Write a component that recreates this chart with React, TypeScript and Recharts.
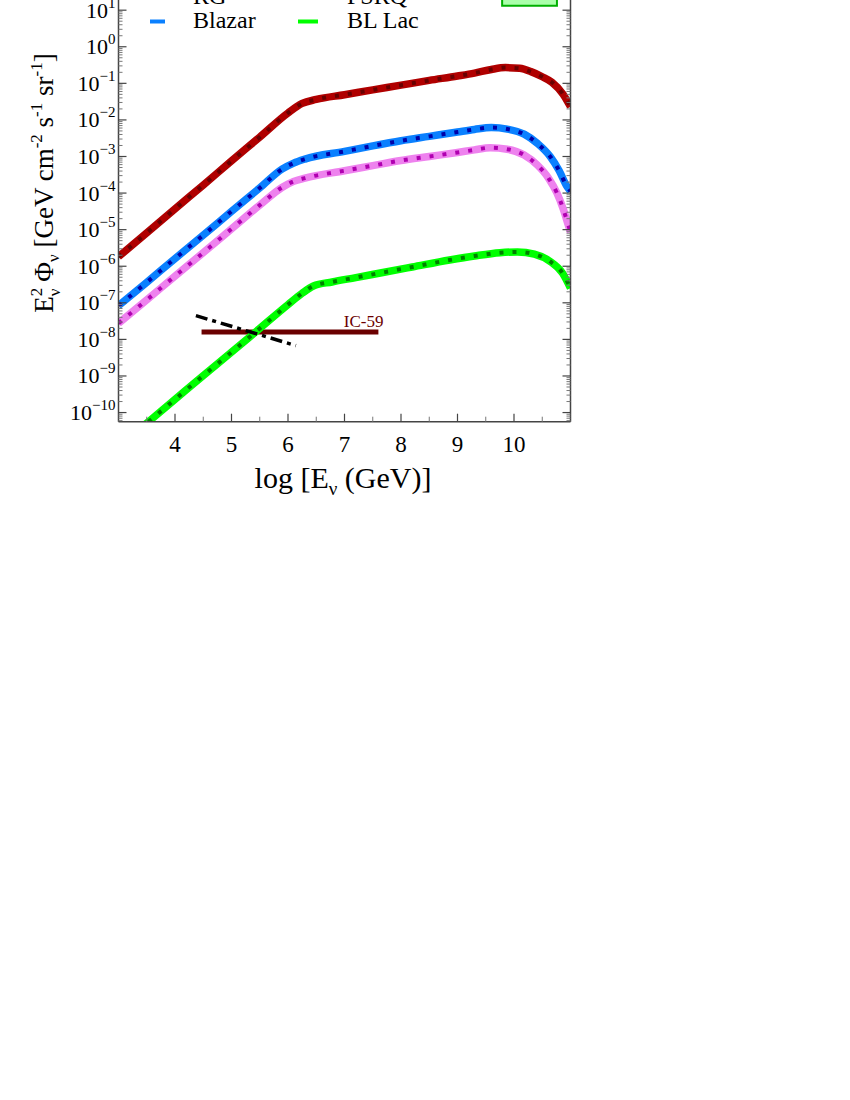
import { LineChart, Line, XAxis, YAxis, ReferenceArea, Customized } from 'recharts';

// x = log10(E / GeV), y = log10(E^2 Phi / GeV cm^-2 s^-1 sr^-1)
const rgE = [3, 3.5, 4, 4.5, 5, 5.5, 6, 6.25, 6.5, 7, 7.5, 8, 8.5, 9, 9.3, 9.6, 9.85, 10.1, 10.3, 10.5, 10.67, 10.87, 11];
const rgFlux = [-5.74, -5.09, -4.43, -3.78, -3.12, -2.47, -1.81, -1.55, -1.44, -1.31, -1.18, -1.05, -0.92, -0.8, -0.72, -0.62, -0.57, -0.59, -0.68, -0.82, -0.97, -1.3, -1.64];

const blazarE = [3, 3.5, 4, 4.5, 5, 5.5, 5.9, 6.1, 6.3, 7, 7.5, 8, 8.5, 9, 9.3, 9.6, 9.88, 10.18, 10.42, 10.64, 10.8, 10.93, 11];
const blazarFlux = [-7.08, -6.44, -5.79, -5.15, -4.5, -3.86, -3.34, -3.18, -3.07, -2.86, -2.71, -2.57, -2.45, -2.33, -2.26, -2.21, -2.25, -2.39, -2.65, -3.0, -3.39, -3.8, -3.95];

const fsrqE = [3, 3.5, 4, 4.5, 5, 5.5, 5.9, 6.1, 6.3, 7, 7.5, 8, 8.5, 9, 9.3, 9.58, 9.88, 10.18, 10.41, 10.61, 10.76, 10.87, 10.96, 11];
const fsrqFlux = [-7.56, -6.92, -6.27, -5.63, -4.98, -4.33, -3.84, -3.68, -3.59, -3.39, -3.25, -3.11, -3.0, -2.89, -2.82, -2.76, -2.8, -2.96, -3.23, -3.59, -4.0, -4.43, -4.87, -5.07];

const bllacE = [3, 3.5, 4, 4.5, 5, 5.5, 6, 6.25, 6.45, 6.78, 7.2, 7.68, 8.2, 8.86, 9.3, 9.75, 10.06, 10.36, 10.64, 10.86, 11];
const bllacFlux = [-10.94, -10.29, -9.64, -8.99, -8.35, -7.7, -7.05, -6.74, -6.54, -6.43, -6.31, -6.17, -6.02, -5.83, -5.72, -5.63, -5.61, -5.67, -5.87, -6.19, -6.6];

const ic59E = [4.47, 7.6];
const ic59Flux = [-7.8, -7.8];

const dashDotE = [4.37, 6.14];
const dashDotFlux = [-7.35, -8.17];

const boxE = [9.79, 10.76];
const boxFlux = [1.12, 1.8];

const xTicks = [4, 5, 6, 7, 8, 9, 10];
const xMinorTicks = [3.5, 4.5, 5.5, 6.5, 7.5, 8.5, 9.5, 10.5];
const yTicks = [-10, -9, -8, -7, -6, -5, -4, -3, -2, -1, 0, 1];

const X_DOMAIN: [number, number] = [3, 11];
const Y_DOMAIN: [number, number] = [-10.25, 2];

const yMinorTicks: number[] = [];
for (let k = -11; k <= 1; k++) {
  for (let m = 2; m <= 9; m++) {
    const v = k + Math.log10(m);
    if (v > Y_DOMAIN[0] && v < Y_DOMAIN[1]) yMinorTicks.push(v);
  }
}

const FONT = '"Liberation Serif", "DejaVu Serif", serif';
const FRAME = '#444';
const THIN = 0.01; // mirrored frame axes take (almost) no room

const pts = (xs: number[], ys: number[]) => xs.map((x, i) => ({ x, y: ys[i] }));

const curves = [
  { name: 'RG', data: pts(rgE, rgFlux), color: '#b00000', dots: '#680000' },
  { name: 'Blazar', data: pts(blazarE, blazarFlux), color: '#0a80ff', dots: '#0000a8' },
  { name: 'FSRQ', data: pts(fsrqE, fsrqFlux), color: '#ee82ee', dots: '#b000b0' },
  { name: 'BL Lac', data: pts(bllacE, bllacFlux), color: '#00ff00', dots: '#008000' },
];

const supText = (k: number) => (k < 0 ? '\u2212' + -k : String(k));

const NoLabel = () => <g />;

const YTickLabel = (p: any) => (
  <text x={p.x} y={p.y + 7.5} textAnchor="end" fontFamily={FONT} fontSize={22} fill="#000">
    10
    <tspan dy={-10} fontSize={15}>{supText(p.payload.value)}</tspan>
  </text>
);

const XTickLabel = (p: any) => (
  <text x={p.x} y={p.y} textAnchor="middle" fontFamily={FONT} fontSize={23} fill="#000">
    {p.payload.value}
  </text>
);

const Texts = () => (
  <g fontFamily={FONT} fill="#000">
    {/* legend (top row is cut off by the page edge in the original too) */}
    <line x1={150} x2={165} y1={57} y2={57} stroke="#b00000" strokeWidth={4} />
    <text x={193} y={64} fontSize={24}>RG</text>
    <line x1={298} x2={318} y1={57} y2={57} stroke="#ee82ee" strokeWidth={4} />
    <text x={347} y={64} fontSize={24}>FSRQ</text>
    <line x1={150} x2={165} y1={81.5} y2={81.5} stroke="#0a80ff" strokeWidth={4} />
    <text x={193} y={88} fontSize={24}>Blazar</text>
    <line x1={298} x2={318} y1={81.5} y2={81.5} stroke="#00ff00" strokeWidth={4} />
    <text x={347} y={88} fontSize={24}>BL Lac</text>

    {/* axis titles */}
    <text x={343} y={548} textAnchor="middle" fontSize={30}>
      log [E<tspan dy={7} fontSize={19}>ν</tspan><tspan dy={-7}> (GeV)]</tspan>
    </text>
    <text transform="translate(53 243) rotate(-90)" textAnchor="middle" fontSize={27}>
      E<tspan dy={-11} fontSize={17}>2</tspan>
      <tspan dx={-8.5} dy={18} fontSize={17}>ν</tspan>
      <tspan dy={-7}> Φ</tspan>
      <tspan dy={6} fontSize={17}>ν</tspan>
      <tspan dy={-6}> [GeV cm</tspan>
      <tspan dy={-11} fontSize={17}>-2</tspan>
      <tspan dy={11}> s</tspan>
      <tspan dy={-11} fontSize={17}>-1</tspan>
      <tspan dy={11}> sr</tspan>
      <tspan dy={-11} fontSize={17}>-1</tspan>
      <tspan dy={11}>]</tspan>
    </text>
  </g>
);

const IcLabel = (p: any) =>
  p.index === 1 ? (
    <text x={p.x + 5} y={p.y - 5} textAnchor="end" fontFamily={FONT} fontSize={17} fill="#6b0000">
      IC-59
    </text>
  ) : null;

export default function App() {
  const common = { type: 'number' as const, domain: X_DOMAIN, allowDataOverflow: true, dataKey: 'x' };
  const commonY = { type: 'number' as const, domain: Y_DOMAIN, allowDataOverflow: true };
  const majorLine = { stroke: FRAME, strokeWidth: 1.2 };
  const minorLine = { stroke: '#777', strokeWidth: 1 };
  const frameLine = { stroke: FRAME, strokeWidth: 1.5 };
  return (
    <div style={{ position: 'absolute', left: 0, top: -60 }}>
      <LineChart width={600} height={600} margin={{ top: 33.6, right: 29.5, bottom: 78.3, left: 58.5 }}>
        {/* labelled axes */}
        <XAxis xAxisId="x" {...common} ticks={xTicks} height={40} tickSize={0} tickMargin={30}
          tickLine={false} axisLine={false} tick={<XTickLabel />} interval={0} />
        <YAxis yAxisId="y" {...commonY} ticks={yTicks} width={60} tickSize={0} tickMargin={3}
          tickLine={false} axisLine={false} tick={<YTickLabel />} interval={0} />

        {/* frame with inward ticks */}
        <XAxis xAxisId="xb" {...common} mirror height={THIN} ticks={xTicks} tickSize={8} tick={<NoLabel />} interval={0}
          axisLine={frameLine} tickLine={majorLine} />
        <XAxis xAxisId="xbm" {...common} mirror height={THIN} ticks={xMinorTicks} tickSize={5} tick={<NoLabel />} interval={0}
          axisLine={false} tickLine={minorLine} />
        <XAxis xAxisId="xt" {...common} orientation="top" mirror height={THIN} ticks={xTicks} tickSize={8} tick={<NoLabel />} interval={0}
          axisLine={frameLine} tickLine={majorLine} />
        <YAxis yAxisId="yl" {...commonY} mirror width={THIN} ticks={yTicks} tickSize={8} tick={<NoLabel />} interval={0}
          axisLine={frameLine} tickLine={majorLine} />
        <YAxis yAxisId="ylm" {...commonY} mirror width={THIN} ticks={yMinorTicks} tickSize={4} tick={<NoLabel />} interval={0}
          axisLine={false} tickLine={minorLine} />
        <YAxis yAxisId="yr" {...commonY} orientation="right" mirror width={THIN} ticks={yTicks} tickSize={8} tick={<NoLabel />} interval={0}
          axisLine={frameLine} tickLine={majorLine} />
        <YAxis yAxisId="yrm" {...commonY} orientation="right" mirror width={THIN} ticks={yMinorTicks} tickSize={4} tick={<NoLabel />} interval={0}
          axisLine={false} tickLine={minorLine} />

        <ReferenceArea xAxisId="x" yAxisId="y" x1={boxE[0]} x2={boxE[1]} y1={boxFlux[0]} y2={boxFlux[1]}
          fill="#aaffaa" fillOpacity={1} stroke="#00b000" strokeWidth={2} ifOverflow="hidden" />

        <Line xAxisId="x" yAxisId="y" data={pts(ic59E, ic59Flux)} dataKey="y" stroke="#6b0000" strokeWidth={5}
          dot={false} isAnimationActive={false} label={<IcLabel />} />

        {curves.map((c) => (
          <Line key={c.name} xAxisId="x" yAxisId="y" data={c.data} dataKey="y" type="monotone"
            stroke={c.color} strokeWidth={7.5} dot={false} isAnimationActive={false} />
        ))}
        {curves.map((c) => (
          <Line key={c.name + '-dots'} xAxisId="x" yAxisId="y" data={c.data} dataKey="y" type="monotone"
            stroke={c.dots} strokeWidth={4} strokeDasharray="4 9" dot={false} isAnimationActive={false} />
        ))}

        <Line xAxisId="x" yAxisId="y" data={pts(dashDotE, dashDotFlux)} dataKey="y" stroke="#000" strokeWidth={3.5}
          strokeDasharray="12 5 4 5" dot={false} isAnimationActive={false} />

        <Customized component={Texts} />
      </LineChart>
    </div>
  );
}
